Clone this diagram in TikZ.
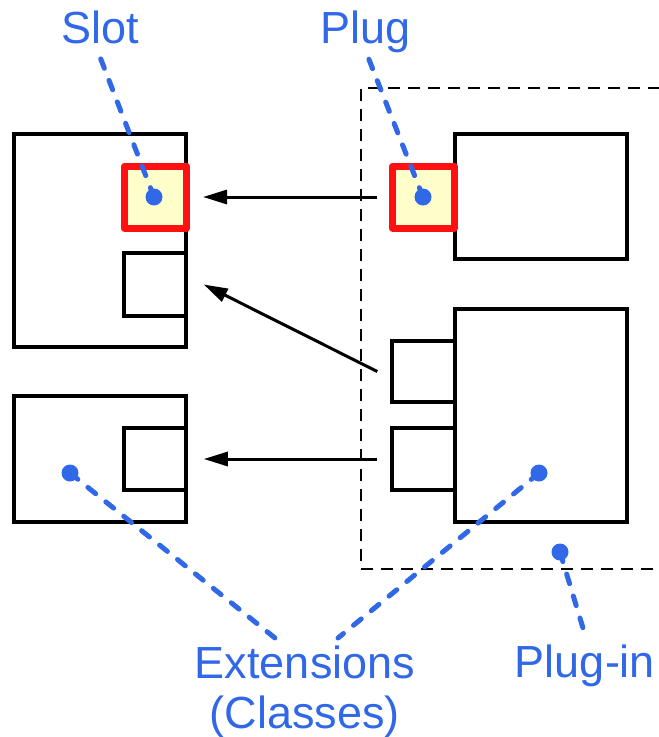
\documentclass[tikz,border=0pt]{standalone}
\usepackage{fontspec}
\setmainfont{Liberation Sans}
\usetikzlibrary{arrows.meta}
\definecolor{callout}{RGB}{48,104,232}
\definecolor{slotred}{RGB}{255,17,17}
\definecolor{slotfill}{RGB}{255,255,204}
\begin{document}
\begin{tikzpicture}[x=1pt, y=-1pt,
    box/.style={draw, line width=3.5pt, inner sep=0pt},
    port/.style={draw=slotred, fill=slotfill, line width=7pt, line join=round, inner sep=0pt, minimum size=62pt},
    dot/.style={circle, fill=callout, inner sep=0pt, minimum size=17pt},
    lead/.style={callout, line width=5pt, line cap=round, dash pattern=on 10pt off 13pt},
    link/.style={line width=3pt, -{Triangle[length=24pt, width=14pt]}},
    lbl/.style={text=callout, font=\fontsize{45}{50}\selectfont, inner sep=0pt}]
  \useasboundingbox (0,0) rectangle (659,737);
  % host side
  \node[box, minimum width=172pt, minimum height=213pt] (hostA) at (100,240.5) {};
  \node[box, minimum width=62pt, minimum height=63pt] (hole1) at (155,284.5) {};
  \node[box, minimum width=172pt, minimum height=126pt] (hostB) at (100,459) {};
  \node[box, minimum width=62pt, minimum height=62pt] (hole2) at (155,459) {};
  \node[port] (slot) at (155.5,197) {};
  % plug-in side
  \node[draw, line width=2pt, dash pattern=on 12pt off 8pt, inner sep=0pt,
        minimum width=299pt, minimum height=481pt] (frame) at (510.5,328.5) {};
  \node[box, minimum width=172pt, minimum height=125pt] (partA) at (541,196.5) {};
  \node[box, minimum width=172pt, minimum height=213pt] (partB) at (541,415.5) {};
  \node[box, minimum width=63pt, minimum height=61pt] (port1) at (423.5,371.5) {};
  \node[box, minimum width=63pt, minimum height=62pt] (port2) at (423.5,459) {};
  \node[port] (plug) at (423.5,197) {};
  % connections
  \draw[link] ([xshift=-12pt]plug.west) -- ([xshift=13pt]slot.east);
  \draw[link] ([xshift=-13pt]port1.west) -- ([xshift=16pt]hole1.east);
  \draw[link] ([xshift=-13pt]port2.west) -- ([xshift=16pt]hole2.east);
  % labels
  \node[lbl, anchor=base] (slotlbl) at (100,43) {Slot};
  \node[lbl, anchor=base] (pluglbl) at (366,43) {Plug};
  \node[lbl, anchor=north, align=center] (extlbl) at (305,646) {Extensions\\(Classes)};
  \node[lbl, anchor=base] (pinlbl) at (585,677) {Plug-in};
  \coordinate (slottip) at (100,57);
  \coordinate (plugtip) at (368,57);
  \coordinate (exttipA) at (275,638);
  \coordinate (exttipB) at (338,638);
  \coordinate (pintip) at (586,638);
  \node[dot] (slotdot) at (154,197) {};
  \node[dot] (plugdot) at (423,197) {};
  \node[dot] (extdotA) at (70,473) {};
  \node[dot] (extdotB) at (539,473) {};
  \node[dot] (pindot) at (560,552) {};
  \draw[lead] (slotdot.center) -- (slottip);
  \draw[lead] (plugdot.center) -- (plugtip);
  \draw[lead] (extdotA.center) -- (exttipA);
  \draw[lead] (extdotB.center) -- (exttipB);
  \draw[lead] (pindot.center) -- (pintip);
\end{tikzpicture}
\end{document}
